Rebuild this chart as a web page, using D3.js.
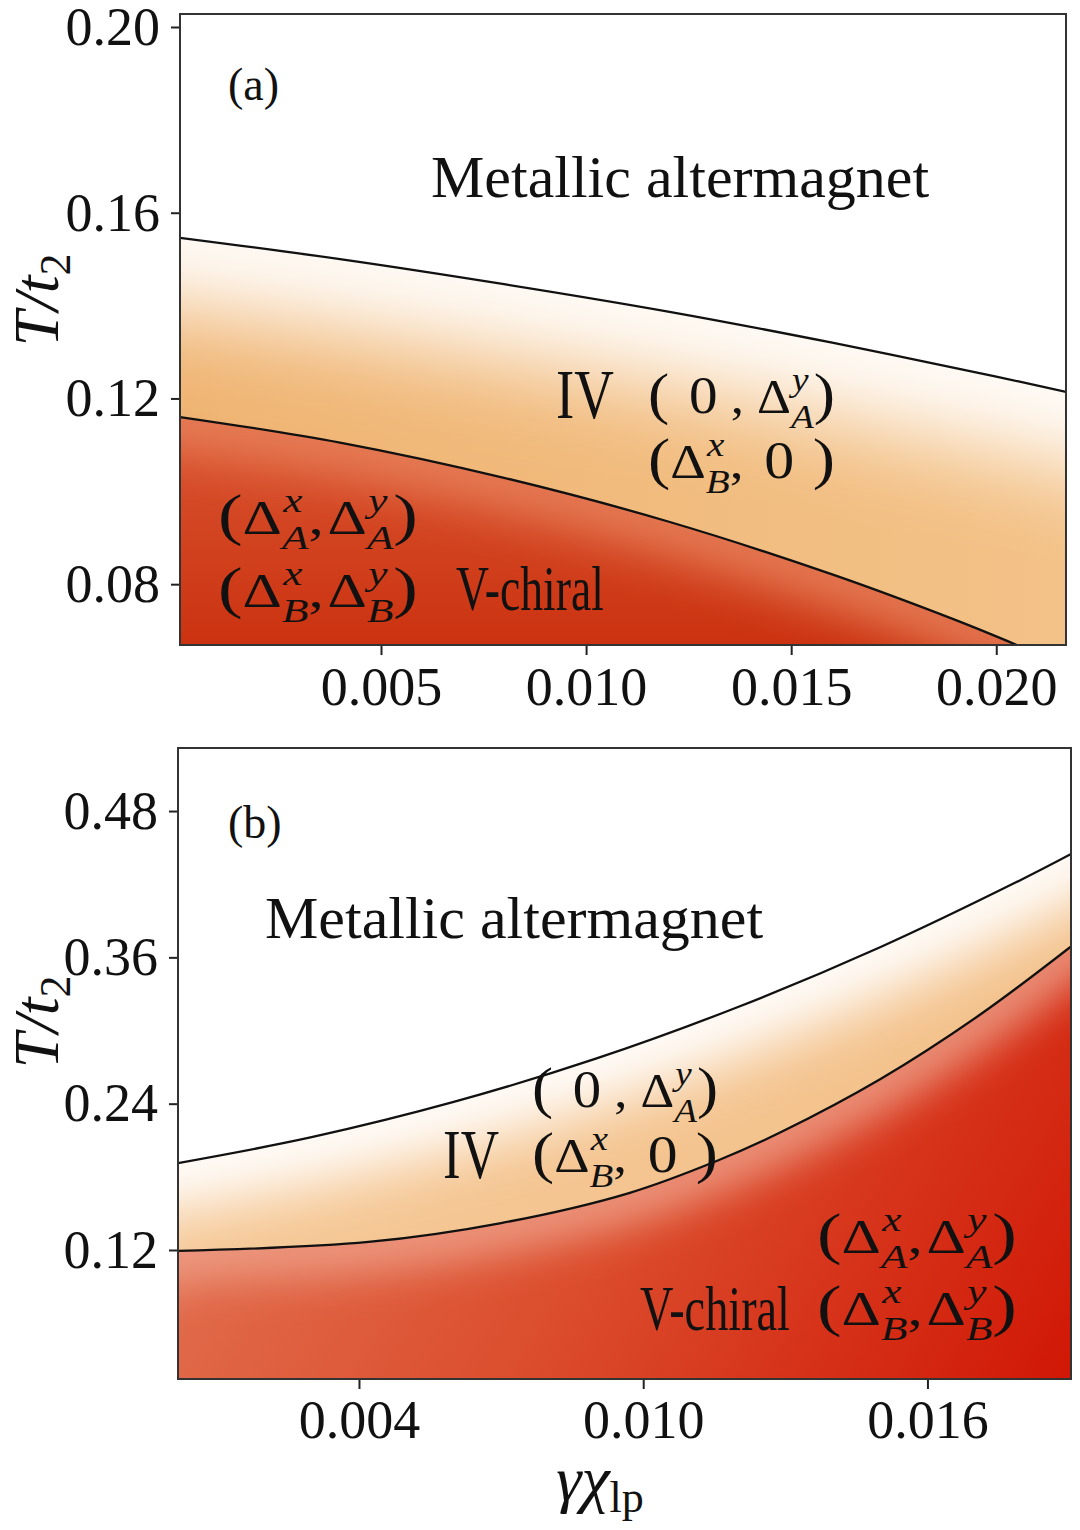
<!DOCTYPE html>
<html>
<head>
<meta charset="utf-8">
<script src="https://cdn.jsdelivr.net/npm/d3@7"></script>
<style>
  html, body { margin: 0; padding: 0; background: #fff; }
  svg { display: block; }
  text { font-family: "Liberation Serif", "Times New Roman", "DejaVu Serif", serif; fill: #111; }
</style>
</head>
<body>
<div id="chart"></div>
<script>
// ---- panel (a): phase boundaries (gamma*chi_lp, T/t2)
const xA_upper = [0.0001, 0.004, 0.008, 0.012, 0.016, 0.020, 0.0217];
const tA_upper = [0.1546, 0.1500, 0.1446, 0.1387, 0.1320, 0.1247, 0.1214];
const xA_lower = [0.0001, 0.004, 0.008, 0.012, 0.016, 0.019, 0.0205];
const tA_lower = [0.1160, 0.1105, 0.1029, 0.0935, 0.0821, 0.0723, 0.0669];

// ---- panel (b)
const xB_upper = [0.00018, 0.003, 0.006, 0.009, 0.012, 0.015, 0.018, 0.0191];
const tB_upper = [0.1913, 0.2125, 0.2414, 0.2769, 0.3193, 0.3683, 0.4241, 0.4462];
const xB_lower = [0.00018, 0.0042, 0.0070, 0.0097, 0.0116, 0.0129, 0.0150, 0.0171, 0.0191];
const tB_lower = [0.1192, 0.1266, 0.1421, 0.1667, 0.1938, 0.2165, 0.2600, 0.3127, 0.3710];

// ---- ticks
const ticksAx = [0.005, 0.010, 0.015, 0.020];
const ticksAy = [0.08, 0.12, 0.16, 0.20];
const ticksBx = [0.004, 0.010, 0.016];
const ticksBy = [0.12, 0.24, 0.36, 0.48];

const W = 1080, H = 1530;
const svg = d3.select("#chart").append("svg")
    .attr("width", W).attr("height", H)
    .attr("viewBox", [0, 0, W, H]);
const defs = svg.append("defs");

function blurFilter(id, sd) {
    defs.append("filter").attr("id", id)
        .attr("filterUnits", "userSpaceOnUse")
        .attr("x", 0).attr("y", 0).attr("width", W).attr("height", H)
        .append("feGaussianBlur").attr("stdDeviation", sd);
}

function gradient(id, x1, y1, x2, y2, stops) {
    const lg = defs.append("linearGradient").attr("id", id)
        .attr("gradientUnits", "userSpaceOnUse")
        .attr("x1", x1).attr("y1", y1).attr("x2", x2).attr("y2", y2);
    stops.forEach(s => lg.append("stop").attr("offset", s[0]).attr("stop-color", s[1]));
}

// text built from pieces (parens, Delta, stacked super/subscripts), squeezed to a width
function richText(parent, x0, yBase, width, parts) {
    const g = parent.append("g");
    let cx = 0;
    const len = s => s.node().getComputedTextLength();
    parts.forEach(p => {
        if (p.gap) { cx += p.gap; return; }
        if (p.sup !== undefined) {
            const a = g.append("text").attr("x", cx + 1).attr("y", -22)
                .style("font-size", "34px").style("font-style", "italic").text(p.sup);
            const b = g.append("text").attr("x", cx).attr("y", 15)
                .style("font-size", "34px").style("font-style", "italic").text(p.sub);
            cx += Math.max(len(a) + 1, len(b));
            return;
        }
        const t = g.append("text").attr("x", cx).attr("y", 0)
            .style("font-size", p.size + "px").text(p.t);
        cx += len(t);
    });
    const sx = width ? width / cx : 1;
    g.attr("transform", `translate(${x0},${yBase}) scale(${sx},1)`);
}

function tuple(a, b) {
    const P = t => ({t: t, size: 58});
    const D = {t: "\u0394", size: 48};
    const Z = {t: "0", size: 52};
    const C = {t: ",", size: 48};
    const parts = [P("(")];
    if (a === "0") parts.push({gap: 18}, Z, {gap: 12}, C, {gap: 12});
    else parts.push(D, {sup: a[0], sub: a[1]}, C);
    if (b === "0") parts.push({gap: 18}, Z, {gap: 16});
    else parts.push({gap: a === "0" ? 0 : 3}, D, {sup: b[0], sub: b[1]});
    parts.push(P(")"));
    return parts;
}

// pixel path of a boundary, run on past both ends so the blurred halo does not thin out at the frame
function haloPath(pts, x, y) {
    const px = pts.map(d => [x(d[0]), y(d[1])]);
    const ext = (a, b) => {
        const dx = a[0] - b[0], dy = a[1] - b[1], n = Math.hypot(dx, dy);
        return [a[0] + dx / n * 250, a[1] + dy / n * 250];
    };
    const all = [ext(px[0], px[1]), ...px, ext(px[px.length - 1], px[px.length - 2])];
    return d3.line().curve(d3.curveCatmullRom)(all);
}

function drawPanel(p) {
    const x = d3.scaleLinear().domain(p.xDomain).range([p.left, p.right]);
    const y = d3.scaleLinear().domain(p.yDomain).range([p.bottom, p.top]);
    const id = p.id;
    const g = svg.append("g");

    defs.append("clipPath").attr("id", id + "-plot").append("rect")
        .attr("x", p.left).attr("y", p.top)
        .attr("width", p.right - p.left).attr("height", p.bottom - p.top);

    const up = d3.zip(p.xu, p.tu), lo = d3.zip(p.xl, p.tl);
    const curve = d3.curveCatmullRom;
    const line = d3.line().x(d => x(d[0])).y(d => y(d[1])).curve(curve);
    const below = d3.area().x(d => x(d[0])).y0(p.bottom).y1(d => y(d[1])).curve(curve);

    defs.append("clipPath").attr("id", id + "-band").append("path").attr("d", below(up));
    defs.append("clipPath").attr("id", id + "-red").append("path").attr("d", below(lo));

    p.grads(id);
    blurFilter(id + "-blurW", p.bandHalo.sd);
    blurFilter(id + "-blurR", p.redHalo.sd);

    const plot = g.append("g").attr("clip-path", `url(#${id}-plot)`);
    plot.append("rect").attr("x", p.left).attr("y", p.top)
        .attr("width", p.right - p.left).attr("height", p.bottom - p.top).attr("fill", "#fff");

    // IV region: orange fading to white under the upper boundary
    plot.append("path").attr("d", below(up)).attr("fill", `url(#${id}-band-grad)`);
    plot.append("g").attr("clip-path", `url(#${id}-band)`)
        .append("path").attr("d", haloPath(up, x, y))
        .attr("fill", "none").attr("stroke", "#fff")
        .attr("stroke-width", p.bandHalo.w)
        .attr("filter", `url(#${id}-blurW)`);

    // V-chiral region: red, lighter along its boundary
    plot.append("path").attr("d", below(lo)).attr("fill", `url(#${id}-red-grad)`);
    plot.append("g").attr("clip-path", `url(#${id}-red)`)
        .append("path").attr("d", haloPath(lo, x, y))
        .attr("fill", "none").attr("stroke", p.redHalo.color)
        .attr("stroke-opacity", p.redHalo.op)
        .attr("stroke-width", p.redHalo.w)
        .attr("filter", `url(#${id}-blurR)`);

    plot.append("path").attr("d", line(up)).attr("fill", "none")
        .attr("stroke", "#111").attr("stroke-width", 2.3);
    plot.append("path").attr("d", line(lo)).attr("fill", "none")
        .attr("stroke", "#111").attr("stroke-width", 2.3);

    // axes
    const ax = g.append("g").attr("transform", `translate(0,${p.bottom})`)
        .call(d3.axisBottom(x).tickValues(p.xTicks).tickFormat(d3.format(".3f"))
            .tickSize(10).tickPadding(p.xPad).tickSizeOuter(0));
    const ay = g.append("g").attr("transform", `translate(${p.left},0)`)
        .call(d3.axisLeft(y).tickValues(p.yTicks).tickFormat(d3.format(".2f"))
            .tickSize(9).tickPadding(11).tickSizeOuter(0));
    [ax, ay].forEach(a => {
        a.select(".domain").remove();
        a.attr("font-family", null).attr("font-size", null).attr("color", "#222");
        a.selectAll("line").attr("stroke-width", 2);
        a.selectAll("text").style("font-size", "54px");
    });

    g.append("rect").attr("x", p.left).attr("y", p.top)
        .attr("width", p.right - p.left).attr("height", p.bottom - p.top)
        .attr("fill", "none").attr("stroke", "#333").attr("stroke-width", 2);

    // y title T/t2
    const yt = g.append("text")
        .attr("transform", `translate(58,${p.yTitleY}) rotate(-90)`)
        .attr("text-anchor", "middle");
    yt.append("tspan").style("font-size", "64px").style("font-style", "italic").text("T/t");
    yt.append("tspan").style("font-size", "44px").attr("dy", 12).text("2");

    // panel tag and phase labels
    g.append("text").attr("x", p.tag[1]).attr("y", p.tag[2])
        .style("font-size", "46px").text(p.tag[0]);
    g.append("text").attr("x", p.metal[0]).attr("y", p.metal[1])
        .style("font-size", "60px").text("Metallic altermagnet");

    p.labels.forEach(l => {
        if (l.text) richText(g, l.x, l.y, l.w, [{t: l.text, size: l.size}]);
        else richText(g, l.x, l.y, l.w, l.parts);
    });
}

drawPanel({
    id: "pa",
    left: 180, right: 1066, top: 14, bottom: 645,
    xDomain: [0.0001, 0.0217], yDomain: [0.0669, 0.2028],
    xu: xA_upper, tu: tA_upper, xl: xA_lower, tl: tA_lower,
    xTicks: ticksAx, yTicks: ticksAy, xPad: 12, yTitleY: 300,
    grads: id => {
        gradient(id + "-band-grad", 180, 0, 1066, 0,
            [[0, "#efb472"], [1, "#f3c288"]]);
        gradient(id + "-red-grad", 0, 417, 0, 645,
            [[0, "#da5632"], [1, "#cb3210"]]);
    },
    bandHalo: {w: 140, sd: 45},
    redHalo: {w: 60, sd: 24, color: "#e8845c", op: 0.9},
    tag: ["(a)", 228, 100],
    metal: [431, 197],
    labels: [
        {text: "IV", size: 70, x: 556, y: 418, w: 58},
        {parts: tuple("0", ["y", "A"]), x: 648, y: 413, w: 187},
        {parts: tuple(["x", "B"], "0"), x: 648, y: 478, w: 187},
        {parts: tuple(["x", "A"], ["y", "A"]), x: 218, y: 534, w: 200},
        {parts: tuple(["x", "B"], ["y", "B"]), x: 218, y: 607, w: 200},
        {text: "V-chiral", size: 64, x: 456, y: 610, w: 148}
    ]
});

drawPanel({
    id: "pb",
    left: 178, right: 1071, top: 748, bottom: 1379,
    xDomain: [0.00018, 0.01903], yDomain: [0.0142, 0.5317],
    xu: xB_upper, tu: tB_upper, xl: xB_lower, tl: tB_lower,
    xTicks: ticksBx, yTicks: ticksBy, xPad: 11, yTitleY: 1022,
    grads: id => {
        gradient(id + "-band-grad", 178, 1250, 1071, 950,
            [[0, "#f5c896"], [1, "#f3c18a"]]);
        gradient(id + "-red-grad", 178, 950, 1071, 1500,
            [[0, "#eb9a80"], [0.2, "#e06848"], [0.5, "#db4c2c"], [1, "#cf1000"]]);
    },
    bandHalo: {w: 90, sd: 30},
    redHalo: {w: 60, sd: 20, color: "#eea088", op: 0.85},
    tag: ["(b)", 228, 838],
    metal: [265, 938],
    labels: [
        {parts: tuple("0", ["y", "A"]), x: 532, y: 1107, w: 186},
        {text: "IV", size: 70, x: 443, y: 1178, w: 56},
        {parts: tuple(["x", "B"], "0"), x: 532, y: 1172, w: 186},
        {parts: tuple(["x", "A"], ["y", "A"]), x: 817, y: 1253, w: 200},
        {parts: tuple(["x", "B"], ["y", "B"]), x: 817, y: 1325, w: 200},
        {text: "V-chiral", size: 64, x: 640, y: 1330, w: 150}
    ]
});

// x title
const xt = svg.append("text").attr("x", 600).attr("y", 1500).attr("text-anchor", "middle");
xt.append("tspan").style("font-size", "64px").style("font-style", "italic").text("\u03b3\u03c7");
xt.append("tspan").style("font-size", "44px").attr("dy", 12).text("lp");
</script>
</body>
</html>
